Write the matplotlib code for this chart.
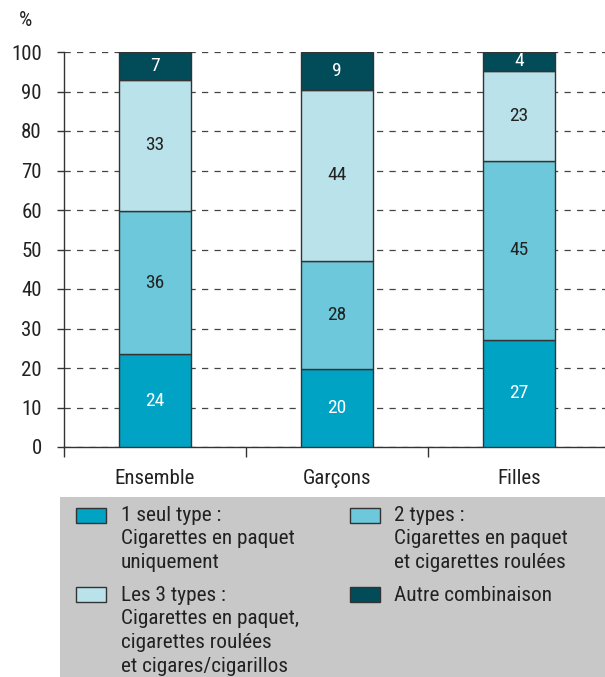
import matplotlib
matplotlib.use("Agg")
import matplotlib.pyplot as plt
from matplotlib.patches import Rectangle
import numpy as np

plt.rcParams['font.family'] = ['Roboto Condensed', 'Liberation Sans Narrow', 'Roboto', 'DejaVu Sans']

categories = ['Ensemble', 'Garçons', 'Filles']
series_names = [
    ['1 seul type :', 'Cigarettes en paquet', 'uniquement'],
    ['2 types :', 'Cigarettes en paquet', 'et cigarettes roulées'],
    ['Les 3 types :', 'Cigarettes en paquet,', 'cigarettes roulées', 'et cigares/cigarillos'],
    ['Autre combinaison'],
]
# segment heights (%)
one_type = [23.5, 19.7, 27.2]
two_types = [36.2, 27.5, 45.1]
three_types = [33.3, 43.3, 22.9]
other = [7.0, 9.5, 4.8]
# printed labels
one_type_lbl = [24, 20, 27]
two_types_lbl = [36, 28, 45]
three_types_lbl = [33, 44, 23]
other_lbl = [7, 9, 4]

colors = ['#00A3C4', '#6CC8DA', '#B9E2EA', '#024B59']
text_colors = ['white', '#222222', '#222222', 'white']
yticks = [0, 10, 20, 30, 40, 50, 60, 70, 80, 90, 100]

W, H = 605, 677
fig = plt.figure(figsize=(W / 100, H / 100), dpi=100)

def fx(px):
    return px / W

def fy(py):
    return 1 - py / H

ax = fig.add_axes([fx(64), fy(447), fx(605) - fx(64), fy(52) - fy(447)])
x = np.arange(len(categories))
bottom = np.zeros(len(categories))
series = [one_type, two_types, three_types, other]
labels = [one_type_lbl, two_types_lbl, three_types_lbl, other_lbl]
for vals, lbls, c, tc in zip(series, labels, colors, text_colors):
    vals = np.array(vals)
    ax.bar(x, vals, width=0.4, bottom=bottom, color=c, edgecolor='#333333',
           linewidth=1, zorder=3)
    for xi, b, v, l in zip(x, bottom, vals, lbls):
        ax.text(xi, b + v / 2, str(l), ha='center', va='center', color=tc,
                fontsize=14, zorder=4)
    bottom = bottom + vals

ax.set_xlim(-0.5, (605 - 155) / 182)
ax.set_ylim(0, 100)
ax.set_yticks(yticks)
ax.set_yticklabels([str(t) for t in yticks])
ax.set_xticks(x)
ax.set_xticklabels(categories)
ax.set_xticks([-0.5, 0.5, 1.5], minor=True)
ax.tick_params(axis='x', which='major', length=0, pad=16, labelsize=15, labelcolor='#222222')
ax.tick_params(axis='x', which='minor', length=7, width=1, color='#333333', direction='out')
ax.tick_params(axis='y', length=5, width=1, color='#333333', pad=11, labelsize=15,
               labelcolor='#222222')
for s in ['top', 'right']:
    ax.spines[s].set_visible(False)
for s in ['left', 'bottom']:
    ax.spines[s].set_color('#333333')
    ax.spines[s].set_linewidth(1)
ax.yaxis.grid(True, linestyle=(0, (5, 5)), color='#444444', linewidth=0.9, zorder=0)
ax.set_axisbelow(True)

fig.text(fx(26), fy(20), '%', ha='center', va='center', fontsize=15, color='#222222')

# legend panel
fig.add_artist(Rectangle((fx(60), 0), 1 - fx(60), fy(497), transform=fig.transFigure,
                         facecolor='#C8C8C8', edgecolor='none', zorder=0))
handle_pos = [(76, 508), (350, 508), (76, 587), (350, 587)]
text_x = [121, 394, 121, 394]
first_base = [521, 521, 601, 601]
for (hx, hy), tx, b0, names, c in zip(handle_pos, text_x, first_base, series_names, colors):
    fig.add_artist(Rectangle((fx(hx), fy(hy + 15)), fx(30), 15 / H, transform=fig.transFigure,
                             facecolor=c, edgecolor='#333333', linewidth=1))
    for i, line in enumerate(names):
        fig.text(fx(tx), fy(b0 + 23.5 * i), line, ha='left', va='baseline',
                 fontsize=15.3, color='#222222')

fig.savefig('out.png', dpi=100)
